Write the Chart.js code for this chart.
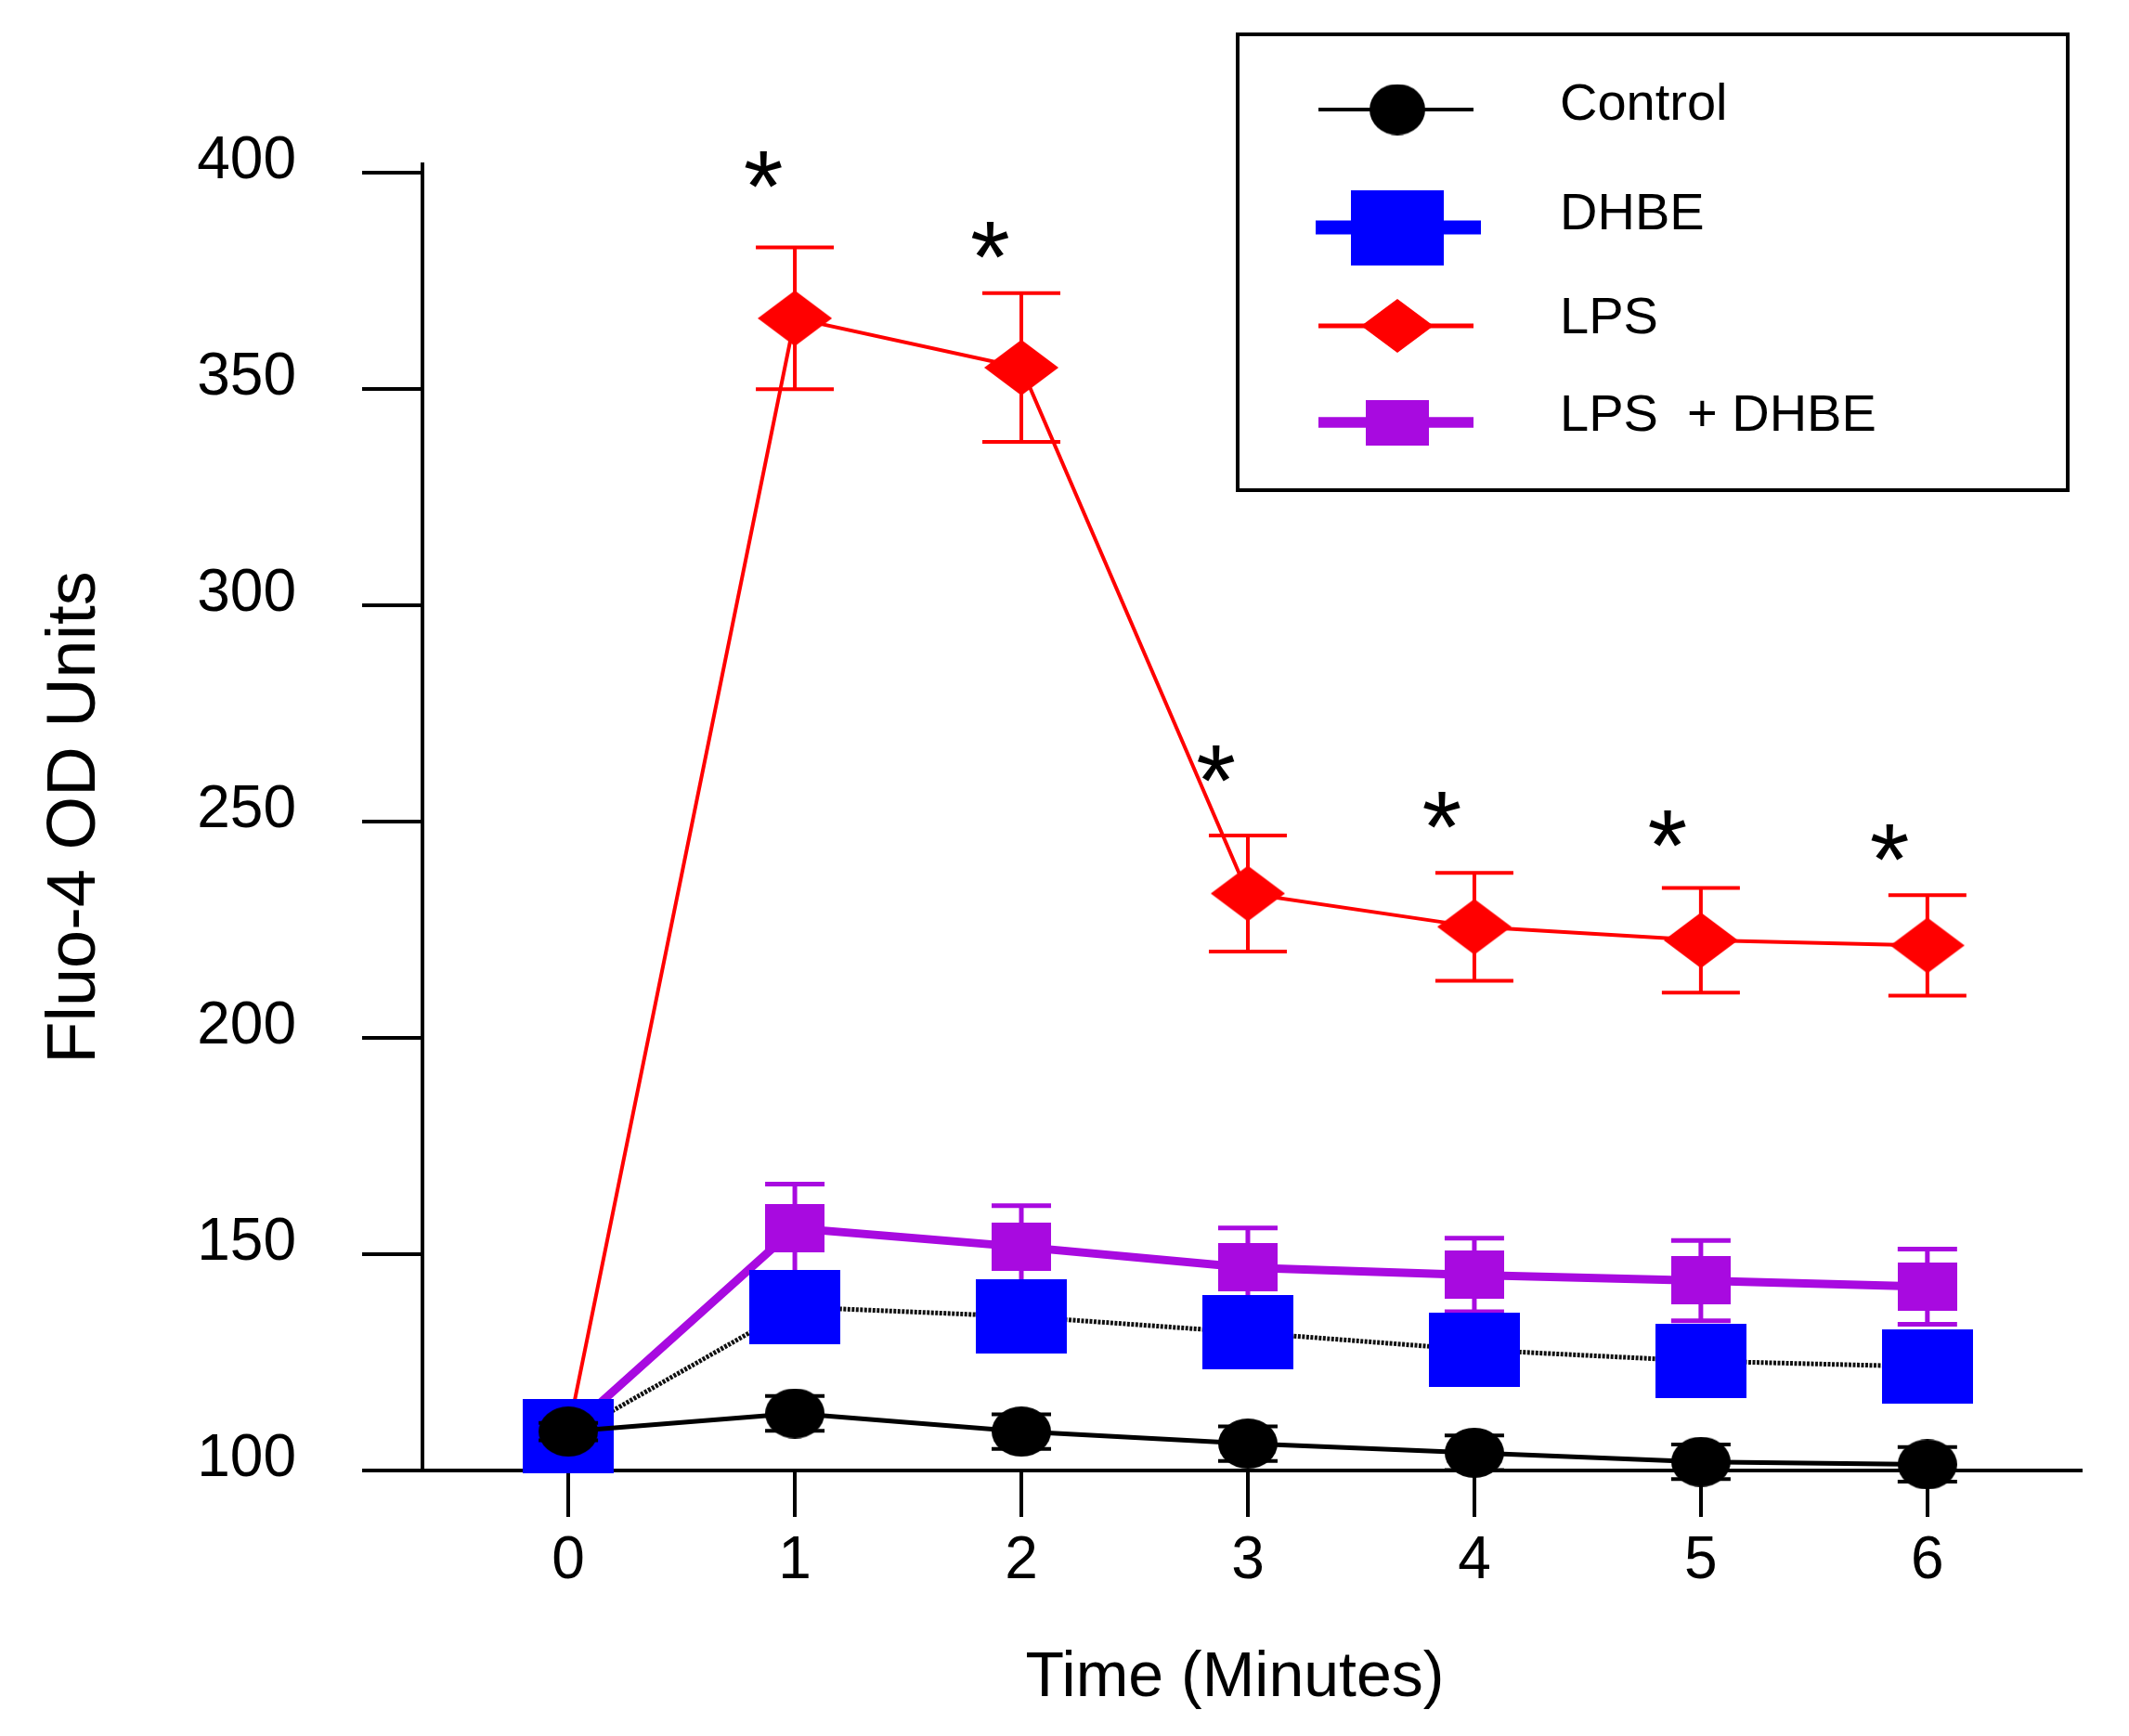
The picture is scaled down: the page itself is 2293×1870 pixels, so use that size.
<!DOCTYPE html>
<html>
<head>
<meta charset="utf-8">
<script src="https://cdn.jsdelivr.net/npm/chart.js@4.4.1/dist/chart.umd.min.js"></script>
<style>
  html, body { margin: 0; padding: 0; background: #fff; }
  #wrap { width: 2293px; height: 1870px; }
</style>
</head>
<body>
<div id="wrap"><canvas id="fluoChart" width="2293" height="1870"></canvas></div>
<script>
// values (mean +/- SEM)
const minutes = [0, 1, 2, 3, 4, 5, 6];
const yTicks = [100, 150, 200, 250, 300, 350, 400];

const controlVals = [109, 113.2, 109, 106.2, 104.1, 102, 101.4];
const controlErr = [2, 4, 4, 4, 4, 4, 4];

const dhbeVals = [108, 137.8, 135.6, 131.9, 127.9, 125.3, 124];
const dhbeErr = [2, 7, 7, 7, 7, 7, 7];

const lpsVals = [109, 366.4, 355, 233.4, 225.7, 222.6, 221.4];
const lpsErr = [2, 16.4, 17.2, 13.4, 12.5, 12.1, 11.6];

const lpsDhbeVals = [109, 156, 151.7, 146.9, 145.2, 143.9, 142.5];
const lpsDhbeErr = [2, 10.2, 9.5, 9.2, 8.5, 9.3, 8.7];

// significance marks
const starX = [0.861, 1.862, 2.859, 3.856, 4.852, 5.833];
const starY = [400.8, 384.5, 263.5, 252.8, 248.5, 245.1];

const xTitle = "Time (Minutes)";
const FONT = "'Liberation Sans', Arial, sans-serif";

function makeMarker(w, h, color, shape) {
    let c = document.createElement("canvas");
    c.width = w;
    c.height = h;
    let g = c.getContext("2d");
    g.fillStyle = color;
    g.beginPath();
    if (shape === "ellipse") {
        g.ellipse(w / 2, h / 2, w / 2, h / 2, 0, 0, Math.PI * 2);
    } else if (shape === "diamond") {
        g.moveTo(w / 2, 0);
        g.lineTo(w, h / 2);
        g.lineTo(w / 2, h);
        g.lineTo(0, h / 2);
        g.closePath();
    } else {
        g.rect(0, 0, w, h);
    }
    g.fill();
    return c;
}

const dot = makeMarker(64, 54, "#000000", "ellipse");
const blueSq = makeMarker(98, 80, "#0000ff", "rect");
const redDia = makeMarker(80, 60, "#ff0000", "diamond");
const purpleSq = makeMarker(64, 52, "#a80ae0", "rect");

function pts(vals) {
    return minutes.map((m, i) => ({ x: m, y: vals[i] }));
}

const errorBars = {
    id: "errorBars",
    beforeDatasetDraw(chart, args) {
        let ds = chart.data.datasets[args.index];
        if (!ds.errors) return;
        let xs = chart.scales.x, ys = chart.scales.y, ctx = chart.ctx;
        ctx.save();
        ctx.strokeStyle = ds.errColor;
        ctx.lineWidth = ds.errWidth;
        ds.data.forEach((p, i) => {
            let px = xs.getPixelForValue(p.x);
            let t = ys.getPixelForValue(p.y + ds.errors[i]);
            let b = ys.getPixelForValue(p.y - ds.errors[i]);
            let hw = ds.capWidth / 2;
            ctx.beginPath();
            ctx.moveTo(px, t); ctx.lineTo(px, b);
            ctx.moveTo(px - hw, t); ctx.lineTo(px + hw, t);
            ctx.moveTo(px - hw, b); ctx.lineTo(px + hw, b);
            ctx.stroke();
        });
        ctx.restore();
    }
};

const stars = {
    id: "stars",
    afterDatasetsDraw(chart) {
        let xs = chart.scales.x, ys = chart.scales.y, ctx = chart.ctx;
        ctx.save();
        ctx.fillStyle = "#000";
        ctx.font = "110px " + FONT;
        ctx.textAlign = "center";
        ctx.textBaseline = "alphabetic";
        let m = ctx.measureText("*");
        let mid = (m.actualBoundingBoxAscent - m.actualBoundingBoxDescent) / 2;
        starX.forEach((sx, i) => {
            ctx.fillText("*", xs.getPixelForValue(sx), ys.getPixelForValue(starY[i]) + mid);
        });
        // x axis title, centred a little left of the axis middle as in the figure
        ctx.font = "68px " + FONT;
        ctx.textBaseline = "middle";
        ctx.fillText(xTitle, 1330, 1808);
        ctx.restore();
    }
};

// boxed legend with line-through-marker swatches
const boxLegend = {
    id: "boxLegend",
    afterDraw(chart) {
        let ctx = chart.ctx;
        ctx.save();
        ctx.strokeStyle = "#000";
        ctx.lineWidth = 4;
        ctx.strokeRect(1333, 37, 894, 491);
        let rows = [118, 245, 351, 455];
        let textRows = [114, 232, 344, 449];
        ctx.font = "56px " + FONT;
        ctx.fillStyle = "#000";
        ctx.textBaseline = "middle";
        chart.data.datasets.forEach((ds, i) => {
            let y = rows[i];
            ctx.strokeStyle = ds.legendColor;
            ctx.lineWidth = ds.legendLine;
            ctx.beginPath();
            ctx.moveTo(ds.legendLine > 12 ? 1417 : 1420, y);
            ctx.lineTo(ds.legendLine > 12 ? 1595 : 1587, y);
            ctx.stroke();
            let img = ds.legendMarker || ds.pointStyle;
            ctx.drawImage(img, 1505 - img.width / 2, y - img.height / 2);
            ctx.fillText(ds.label, 1680, textRows[i]);
        });
        ctx.restore();
    }
};

let ctx = document.getElementById("fluoChart").getContext("2d");
new Chart(ctx, {
    type: "line",
    data: {
        datasets: [
            {
                label: "Control",
                data: pts(controlVals),
                borderColor: "#000000",
                borderWidth: 5,
                pointStyle: dot,
                pointRadius: 10,
                order: 1,
                errors: controlErr, errColor: "#000", errWidth: 4, capWidth: 64,
                legendColor: "#000", legendLine: 4,
                legendMarker: makeMarker(60, 55, "#000000", "ellipse")
            },
            {
                label: "DHBE",
                data: pts(dhbeVals),
                borderColor: "#111111",
                borderWidth: 5,
                borderDash: [3, 1.5],
                pointStyle: blueSq,
                pointRadius: 10,
                order: 2,
                errors: dhbeErr, errColor: "#0000ff", errWidth: 4, capWidth: 80,
                legendColor: "#0000ff", legendLine: 15,
                legendMarker: makeMarker(100, 81, "#0000ff", "rect")
            },
            {
                label: "LPS",
                data: pts(lpsVals),
                borderColor: "#ff0000",
                borderWidth: 4,
                pointStyle: redDia,
                pointRadius: 10,
                order: 4,
                errors: lpsErr, errColor: "#ff0000", errWidth: 4, capWidth: 84,
                legendColor: "#ff0000", legendLine: 5,
                legendMarker: makeMarker(78, 58, "#ff0000", "diamond")
            },
            {
                label: "LPS  + DHBE",
                data: pts(lpsDhbeVals),
                borderColor: "#a80ae0",
                borderWidth: 9,
                pointStyle: purpleSq,
                pointRadius: 10,
                order: 3,
                errors: lpsDhbeErr, errColor: "#a80ae0", errWidth: 5, capWidth: 64,
                legendColor: "#a80ae0", legendLine: 11.5,
                legendMarker: makeMarker(68, 49, "#a80ae0", "rect")
            }
        ].map(d => Object.assign(d, { fill: false, tension: 0, clip: false }))
    },
    options: {
        responsive: false,
        animation: false,
        devicePixelRatio: 1,
        layout: { padding: { top: 177, right: 52, bottom: 0, left: 0 } },
        plugins: {
            legend: { display: false },
            tooltip: { enabled: false }
        },
        scales: {
            x: {
                type: "linear",
                min: -0.644,
                max: 6.677,
                afterBuildTicks: s => { s.ticks = minutes.map(v => ({ value: v })); },
                afterFit: s => { s.height = 286; },
                ticks: {
                    autoSkip: false,
                    maxRotation: 0,
                    padding: 10,
                    color: "#000",
                    font: { family: FONT, size: 64 }
                },
                grid: { drawOnChartArea: false, tickLength: 50, lineWidth: 4, color: "#000" },
                border: { display: true, width: 4, color: "#000" },
                title: { display: false }
            },
            y: {
                type: "linear",
                min: 100,
                max: 402,
                afterBuildTicks: s => { s.ticks = yTicks.map(v => ({ value: v })); },
                afterFit: s => { s.width = 455; },
                ticks: {
                    padding: 71,
                    color: "#000",
                    font: { family: FONT, size: 64, lineHeight: 0.375 },
                    callback: v => [String(v), ""]
                },
                grid: { drawOnChartArea: false, tickLength: 65, lineWidth: 4, color: "#000" },
                border: { display: true, width: 4, color: "#000" },
                title: {
                    display: true,
                    text: "Fluo-4 OD Units",
                    color: "#000",
                    font: { family: FONT, size: 74 },
                    padding: { top: 37, bottom: 0 }
                }
            }
        }
    },
    plugins: [errorBars, stars, boxLegend]
});
</script>
</body>
</html>
